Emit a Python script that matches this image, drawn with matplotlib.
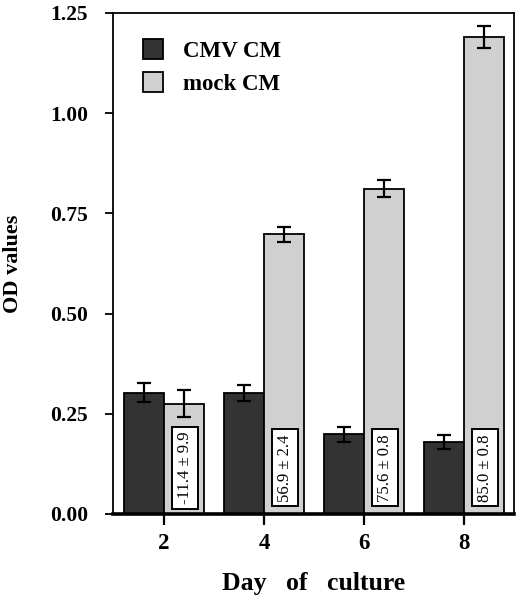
import matplotlib
matplotlib.use("Agg")
import matplotlib.pyplot as plt
import numpy as np

days = [2, 4, 6, 8]
day_labels = ["2", "4", "6", "8"]
cmv_values = [0.303, 0.302, 0.199, 0.180]
cmv_errors = [0.023, 0.020, 0.019, 0.018]
mock_values = [0.275, 0.698, 0.812, 1.190]
mock_errors = [0.034, 0.019, 0.022, 0.027]
inhibition_labels = ["-11.4 \u00b1 9.9", "56.9 \u00b1 2.4", "75.6 \u00b1 0.8", "85.0 \u00b1 0.8"]
series_names = ["CMV CM", "mock CM"]
y_ticks = [0.00, 0.25, 0.50, 0.75, 1.00, 1.25]
y_tick_labels = ["0.00", "0.25", "0.50", "0.75", "1.00", "1.25"]

plt.rcParams['font.family'] = ['Liberation Serif', 'DejaVu Serif']

fig = plt.figure(figsize=(5.2, 6.01), dpi=100)
ax = fig.add_axes([0.2173, 0.1448, 0.7712, 0.8336])

x = np.array(days, dtype=float)
w = 0.80
dark = "#333333"
light = "#d0d0d0"
err_kw = dict(ecolor="black", elinewidth=1.6, capsize=5, capthick=1.6)

b1 = ax.bar(x - w / 2, cmv_values, width=w, color=dark, edgecolor="black",
            linewidth=1.3, yerr=cmv_errors, error_kw=err_kw, label=series_names[0], zorder=2)
b2 = ax.bar(x + w / 2, mock_values, width=w, color=light, edgecolor="black",
            linewidth=1.3, yerr=mock_errors, error_kw=err_kw, label=series_names[1], zorder=2)

for xi, lab in zip(x, inhibition_labels):
    ax.text(xi + w / 2 + 0.02, 0.115, lab, rotation=90, ha="center", va="center",
            fontsize=12, color="black", zorder=4,
            bbox=dict(boxstyle="square,pad=0.28", facecolor="white",
                      edgecolor="black", linewidth=1.4))

ax.set_xlim(0.98, 9.0)
ax.set_ylim(0, 1.25)
ax.set_xticks(x)
ax.set_xticklabels(day_labels, fontsize=16.5, fontweight="bold")
ax.set_yticks(y_ticks)
ax.set_yticklabels(y_tick_labels, fontsize=15.5, fontweight="bold")
ax.tick_params(axis="y", direction="out", length=6, width=1.3, pad=12)
ax.tick_params(axis="x", direction="out", length=8, width=1.6, pad=5.5)

for s in ["left", "top", "right"]:
    ax.spines[s].set_linewidth(1.3)
ax.spines["bottom"].set_linewidth(2.6)

ax.set_xlabel("Day   of   culture", fontsize=18.5, fontweight="bold", labelpad=13)
ax.set_ylabel("OD values", fontsize=16, fontweight="bold", labelpad=19)

leg = ax.legend(loc="upper left", bbox_to_anchor=(0.075, 0.948), frameon=False,
                prop=dict(size=16.5, weight="bold"), handlelength=0.85,
                handleheight=0.95, handletextpad=0.9, labelspacing=0.45,
                borderaxespad=0, borderpad=0)

fig.savefig("out.png", dpi=100)
